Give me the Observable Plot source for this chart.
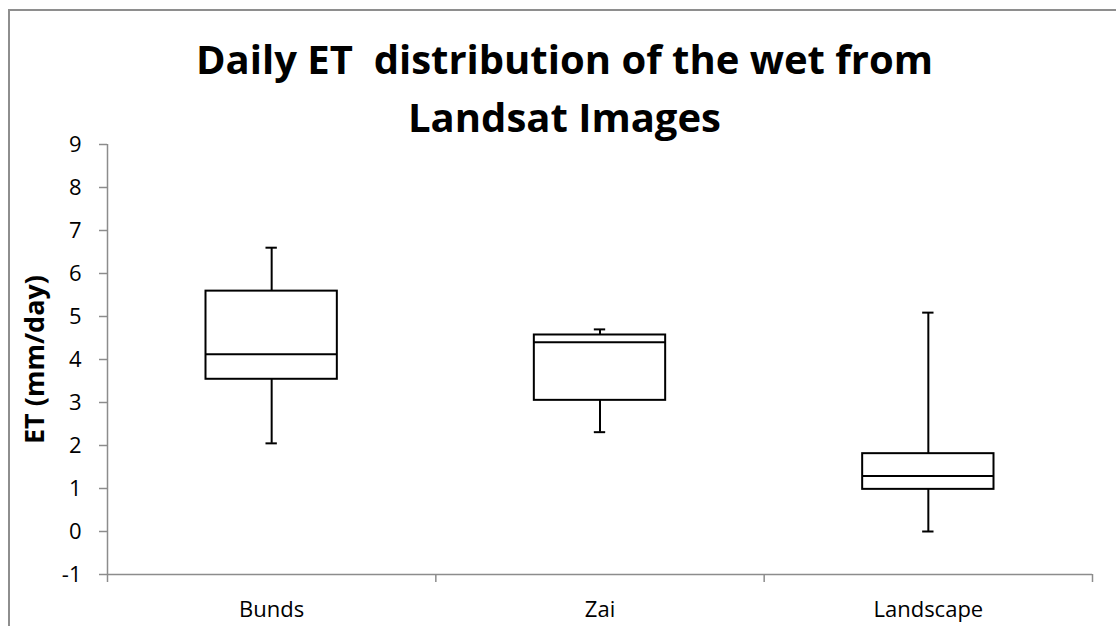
<!DOCTYPE html>
<html>
<head>
<meta charset="utf-8">
<script src="https://cdn.jsdelivr.net/npm/d3@7"></script>
<script src="https://cdn.jsdelivr.net/npm/@observablehq/plot@0.6"></script>
<style>
  html, body { margin: 0; padding: 0; background: #fff; }
  #wrap { position: relative; width: 1116px; height: 626px; overflow: hidden; background: #fff; }
  #frame { position: absolute; left: 8px; top: 9px; width: 1200px; height: 700px; border: 2px solid #8e8e8e; box-sizing: border-box; pointer-events: none; }
  #title { position: absolute; left: 0; top: 30px; width: 1129px; text-align: center; font-family: "Open Sans", sans-serif; font-weight: 700; font-size: 40px; line-height: 58px; color: #000; white-space: pre; }
  #chart { position: absolute; left: 0; top: 0; }
</style>
</head>
<body>
<div id="wrap">
  <div id="chart"></div>
  <div id="frame"></div>
  <div id="title">Daily ET  distribution of the wet from
Landsat Images</div>
</div>
<script>
const categories = ["Bunds", "Zai", "Landscape"];
const whiskerLow  = [2.05, 2.31, 0.00];
const quartile1   = [3.54, 3.05, 0.98];
const medians     = [4.12, 4.40, 1.29];
const quartile3   = [5.59, 4.57, 1.81];
const whiskerHigh = [6.60, 4.70, 5.09];
const yTicks = [-1, 0, 1, 2, 3, 4, 5, 6, 7, 8, 9];
const yLabel = "ET (mm/day)";

const rows = categories.map((c, i) => ({
  name: c, i,
  lo: whiskerLow[i], q1: quartile1[i], med: medians[i], q3: quartile3[i], hi: whiskerHigh[i]
}));

const boxHalf = 0.2;
const capHalf = 0.0173;
const grey = "#8c8c8c";

const chart = Plot.plot({
  width: 1116,
  height: 626,
  marginLeft: 107,
  marginRight: 24,
  marginTop: 144,
  marginBottom: 52,
  style: { fontFamily: "Open Sans, sans-serif", fontSize: "22px", color: "#000", background: "transparent", overflow: "visible" },
  x: { domain: [0, categories.length], label: null },
  y: { domain: [-1, 9], label: null },
  marks: [
    Plot.ruleX([0], { stroke: grey, strokeWidth: 1.5 }),
    Plot.ruleY([-1], { stroke: grey, strokeWidth: 1.5 }),
    Plot.axisY({ ticks: yTicks, tickSize: 8, tickPadding: 18, stroke: grey, strokeWidth: 1.5, fill: "#000", fontSize: 22, label: null, tickFormat: d => String(d) }),
    Plot.axisX({ ticks: d3.range(categories.length + 1), tickSize: 8, stroke: grey, strokeWidth: 1.5, tickFormat: () => "", label: null }),
    Plot.axisX({ ticks: categories.map((c, i) => i + 0.5), tickSize: 0, tickPadding: 27, fill: "#000", fontSize: 22, label: null, tickFormat: d => categories[Math.floor(d)] }),
    Plot.text([yLabel], { frameAnchor: "left", textAnchor: "middle", lineAnchor: "middle", rotate: -90, dx: -72, fontSize: 27, fontWeight: "bold", fill: "#000" }),
    // whiskers
    Plot.ruleX(rows, { x: d => d.i + 0.5, y1: "lo", y2: "q1", stroke: "#000", strokeWidth: 2 }),
    Plot.ruleX(rows, { x: d => d.i + 0.5, y1: "q3", y2: "hi", stroke: "#000", strokeWidth: 2 }),
    Plot.ruleY(rows, { y: "lo", x1: d => d.i + 0.5 - capHalf, x2: d => d.i + 0.5 + capHalf, stroke: "#000", strokeWidth: 2 }),
    Plot.ruleY(rows, { y: "hi", x1: d => d.i + 0.5 - capHalf, x2: d => d.i + 0.5 + capHalf, stroke: "#000", strokeWidth: 2 }),
    // boxes
    Plot.rect(rows, { x1: d => d.i + 0.5 - boxHalf, x2: d => d.i + 0.5 + boxHalf, y1: "q1", y2: "q3", fill: "#fff", stroke: "#000", strokeWidth: 2 }),
    Plot.ruleY(rows, { y: "med", x1: d => d.i + 0.5 - boxHalf, x2: d => d.i + 0.5 + boxHalf, stroke: "#000", strokeWidth: 2 })
  ]
});
document.getElementById("chart").appendChild(chart);
</script>
</body>
</html>
